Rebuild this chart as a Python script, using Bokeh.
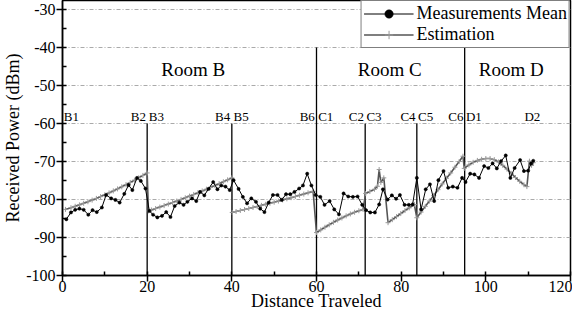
from bokeh.plotting import figure
from bokeh.models import Range1d, FixedTicker, Legend, LegendItem, ColumnDataSource
from bokeh.core.properties import value
from bokeh.embed import file_html
from bokeh.resources import INLINE

# ---- data ----
meas_x = [0.9, 2.0, 3.0, 4.0, 5.0, 6.1, 7.1, 8.1, 9.3, 10.3, 11.5, 12.5, 13.5, 14.6, 15.6, 16.5, 17.6, 18.5, 19.6,
          20.5, 21.4, 22.4, 23.5, 24.5, 25.5, 26.5, 27.6, 28.6, 29.5, 30.6, 31.6, 32.5, 33.5, 34.5, 35.6, 36.6, 37.5, 38.5, 39.5,
          40.4, 41.6, 42.6, 43.6, 44.6, 45.7, 46.7, 47.7, 48.7, 49.7, 50.8, 51.8, 52.8, 53.8, 54.8, 55.9, 56.8, 57.8, 58.8,
          59.8, 60.9, 61.9, 63.1, 64.2, 65.3, 66.4, 67.5, 68.6, 69.7, 70.8,
          71.7, 72.7, 73.8, 74.8, 75.7, 76.8, 77.8, 78.8, 79.7, 80.8, 81.8, 82.7,
          83.7, 84.7, 85.8, 86.8, 87.8, 88.8, 90.0, 91.1, 92.2, 93.3, 94.4,
          95.2, 96.3, 97.3, 98.4, 99.6, 100.6, 101.6, 102.6, 103.6, 104.7, 105.8, 106.8, 108.1, 109.0, 110.0, 110.7, 111.2]
meas_y = [-85.2, -83.4, -82.7, -82.4, -82.7, -84.0, -82.8, -83.3, -82.1, -78.8, -79.7, -80.1, -80.8, -78.5, -76.2, -77.5, -74.3, -75.1, -77.1,
          -83.0, -84.0, -84.7, -84.3, -83.3, -84.6, -81.7, -80.8, -81.4, -80.6, -79.7, -80.4, -78.0, -78.9, -77.2, -75.4, -77.3, -76.3, -76.6, -77.5,
          -74.9, -77.2, -79.3, -81.0, -79.7, -80.6, -82.4, -83.3, -80.8, -78.8, -78.8, -80.1, -78.6, -78.6, -78.0, -77.1, -76.3, -73.2, -76.3,
          -78.8, -79.3, -81.4, -80.4, -82.6, -83.9, -78.4, -79.2, -79.3, -79.2, -81.4,
          -82.8, -83.4, -83.4, -81.3, -77.3, -80.0, -78.9, -79.8, -78.8, -81.4, -81.4, -81.3,
          -74.3, -82.6, -77.3, -76.0, -80.4, -74.9, -72.5, -76.9, -76.6, -76.9, -74.3,
          -75.4, -73.2, -73.4, -74.3, -71.2, -71.7, -70.5, -71.8, -69.9, -68.4, -74.3, -71.7, -69.6, -72.5, -72.4, -70.5, -69.8]

est_x = [0.7, 2, 3, 4, 5, 6, 7, 8, 9, 10, 11, 12, 13, 14, 15, 16, 17, 18, 19, 20,
         20.3, 21, 22, 23, 24, 25, 26, 27, 28, 29, 30, 31, 32, 33, 34, 35, 36, 37, 38, 39, 40,
         40.1, 41, 42, 43, 44, 45, 46, 47, 48, 49, 50, 51, 52, 53, 54, 55, 56, 57, 58, 59.2,
         60, 61, 62, 63, 64, 65, 66, 67, 68, 69, 70, 71,
         71.6, 72.6, 73.7, 74.4, 74.8, 75.2, 75.9, 76.9, 77.9, 78.9, 79.9, 80.9, 81.9, 83.1,
         83.7, 84.7, 85.7, 86.7, 87.7, 88.7, 89.7, 90.7, 91.7, 92.7, 93.7, 94.6,
         94.9, 96, 97, 98, 99, 100, 101, 102, 103, 104, 105, 106, 107, 108, 109, 109.7, 110.3, 110.8, 111.2]
est_y = [-82.6, -82.15, -81.78, -81.4, -81.0, -80.58, -80.15, -79.7, -79.23, -78.75, -78.25, -77.73, -77.2, -76.65, -76.08, -75.5, -74.9, -74.28, -73.65, -73.0,
         -83.0, -82.74, -82.37, -81.99, -81.6, -81.2, -80.8, -80.39, -79.97, -79.54, -79.1, -78.66, -78.2, -77.74, -77.28, -76.8, -76.32, -75.82, -75.32, -74.82, -74.3,
         -83.4, -83.15, -82.89, -82.63, -82.36, -82.09, -81.82, -81.54, -81.26, -80.98, -80.7, -80.41, -80.11, -79.81, -79.51, -79.2, -78.88, -78.56, -78.23, -77.85,
         -88.7, -88.0, -87.3, -86.65, -86.0, -85.4, -84.85, -84.3, -83.8, -83.35, -82.95, -82.6,
         -78.4, -77.9, -77.3, -76.5, -72.1, -75.5, -74.3, -86.1, -85.3, -84.5, -83.7, -82.9, -82.2, -81.3,
         -84.8, -83.3, -81.8, -80.4, -78.9, -77.4, -75.9, -74.4, -73.0, -71.5, -70.0, -68.6,
         -71.8, -70.9, -70.2, -69.7, -69.4, -69.2, -69.2, -69.5, -70.1, -71.0, -72.0, -73.1, -74.2, -75.2, -76.1, -76.6, -69.9, -71.0, -70.3]

wall_x = [20, 40, 60, 71.5, 83.7, 95]
wall_top = [-60, -60, -40, -60, -60, -40]

point_names = ["B1", "B2", "B3", "B4", "B5", "B6", "C1", "C2", "C3", "C4", "C5", "C6", "D1", "D2"]
point_x = [0.3, 19.7, 20.4, 39.6, 40.4, 59.6, 60.4, 71.2, 71.8, 83.4, 84.0, 94.7, 95.3, 111.0]
point_align = ["left", "right", "left", "right", "left", "right", "left", "right", "left", "right", "left", "right", "left", "center"]

room_names = ["Room B", "Room C", "Room D"]
room_x = [30.9, 77.3, 106.0]
room_y = [-45.7, -45.7, -45.7]

x_ticks = [0, 20, 40, 60, 80, 100, 120]
y_ticks = [-100, -90, -80, -70, -60, -50, -40, -30]

FONT = "Liberation Serif, serif"

p = figure(width=572, height=313, output_backend="svg", toolbar_location=None,
           x_range=Range1d(0, 120), y_range=Range1d(-100, -27.6),
           min_border_left=10, min_border_right=2, min_border_top=0, min_border_bottom=10)

p.xaxis.ticker = FixedTicker(ticks=x_ticks, minor_ticks=list(range(0, 121, 10)))
p.yaxis.ticker = FixedTicker(ticks=y_ticks, minor_ticks=list(range(-100, -26, 5)))
p.xaxis.major_label_overrides = {t: str(t) for t in x_ticks}
p.yaxis.major_label_overrides = {t: str(t) for t in y_ticks}
for ax in (p.xaxis, p.yaxis):
    ax.major_tick_out = 6
    ax.major_tick_in = 0
    ax.minor_tick_in = 4
    ax.minor_tick_out = 0
    ax.major_tick_line_width = 1.5
    ax.minor_tick_line_width = 1.5
    ax.axis_line_width = 1.5
    ax.major_label_text_font = FONT
    ax.major_label_text_font_size = "16px"
    ax.major_label_text_color = "black"
    ax.axis_label_text_font = FONT
    ax.axis_label_text_font_size = "18px"
    ax.axis_label_text_font_style = "normal"
    ax.axis_label_text_color = "black"
p.yaxis.major_label_standoff = 1
p.yaxis.axis_label_standoff = 0
p.xaxis.major_label_standoff = -1
p.xaxis.axis_label_standoff = -4

p.xaxis.axis_label = "Distance Traveled"
p.yaxis.axis_label = "Received Power (dBm)"

p.xgrid.grid_line_color = None
p.ygrid.grid_line_color = "#aaaaaa"
p.ygrid.grid_line_dash = "4 2 1 2"
p.ygrid.grid_line_width = 1
p.outline_line_color = "black"
p.outline_line_width = 1.5
p.outline_line_alpha = 1

# walls
p.segment(x0=wall_x, y0=[-100] * len(wall_x), x1=wall_x, y1=wall_top, line_color="black", line_width=1.3)

# estimation
est_src = ColumnDataSource(dict(x=est_x, y=est_y))
e_line = p.line("x", "y", source=est_src, line_color="#555555", line_width=1.6)
e_mark = p.scatter("x", "y", source=est_src, marker="cross", size=5, line_color="#9a9a9a", line_width=1)

# measurements
m_src = ColumnDataSource(dict(x=meas_x, y=meas_y))
m_line = p.line("x", "y", source=m_src, line_color="black", line_width=1)
m_mark = p.scatter("x", "y", source=m_src, marker="circle", size=3.2, fill_color="black", line_color="black", line_width=0.5)

# point labels
for name, x, al in zip(point_names, point_x, point_align):
    p.text(x=[x], y=[-60], text=[name], text_align=al, text_baseline="bottom",
           text_font=value(FONT), text_font_size="13px", text_color="black")

p.text(x=room_x, y=room_y, text=room_names, text_align="center", text_baseline="middle",
       text_font=value(FONT), text_font_size="19px", text_color="black")

legend = Legend(items=[LegendItem(label="Measurements Mean", renderers=[m_line, m_mark]),
                       LegendItem(label="Estimation", renderers=[e_line, e_mark])],
                location="top_right")
legend.label_text_font = FONT
legend.label_text_font_size = "18px"
legend.label_text_color = "black"
legend.glyph_width = 50
legend.glyph_height = 21
legend.label_height = 21
legend.spacing = 0
legend.padding = 2
legend.margin = 0
legend.label_standoff = 3
legend.border_line_color = "black"
legend.border_line_width = 1
legend.background_fill_alpha = 1
p.add_layout(legend)

open("out.html", "w").write(file_html(p, INLINE))
